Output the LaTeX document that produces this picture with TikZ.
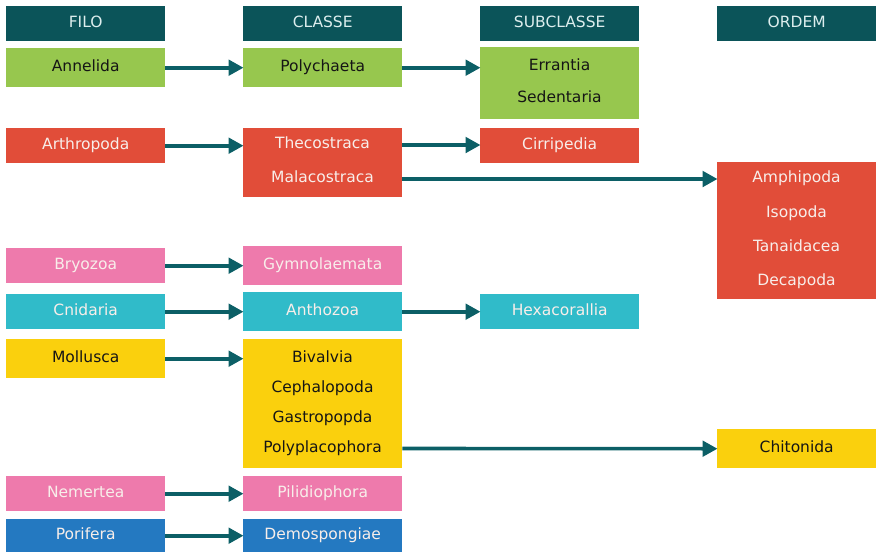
\documentclass[tikz,border=0pt]{standalone}
\usepackage{fontspec}
\setmainfont{DejaVu Sans}
\usetikzlibrary{arrows.meta}
\definecolor{hdr}{HTML}{0B5459}
\definecolor{cgreen}{HTML}{97C74E}
\definecolor{cred}{HTML}{E14D39}
\definecolor{cpink}{HTML}{EE7AAC}
\definecolor{ccyan}{HTML}{30BBC9}
\definecolor{cyellow}{HTML}{FAD00D}
\definecolor{cblue}{HTML}{2479C1}
\definecolor{carrow}{HTML}{0C5F66}
\definecolor{lighttxt}{HTML}{F8EEEA}
\definecolor{hdrtxt}{HTML}{DDEEEE}
\definecolor{darktxt}{HTML}{151515}
\begin{document}
\begin{tikzpicture}[x=1pt,y=-1pt,
  lbl/.style={font=\fontsize{15.5}{18}\selectfont, text height=11.3pt, text depth=4pt, inner sep=0pt},
  box/.style={lbl, rectangle, anchor=north west, minimum width=159pt, align=center},
  hdrbox/.style={box, fill=hdr, text=hdrtxt, minimum height=35pt},
  bg/.style={rectangle, anchor=north west, minimum width=159pt, inner sep=0pt},
  arr/.style={draw=carrow, line width=3.6pt, -{Triangle[length=15pt,width=15.5pt]}, shorten >=-0.5pt}
]
\useasboundingbox (0,0) rectangle (877,552);

% headers
\node[hdrbox] (hfilo) at (6,6) {FILO};
\node[hdrbox] (hclasse) at (243,6) {CLASSE};
\node[hdrbox] (hsub) at (480,6) {SUBCLASSE};
\node[hdrbox] (hordem) at (717,6) {ORDEM};

% Annelida row
\node[box, fill=cgreen, text=darktxt, minimum height=39pt] (annelida) at (6,48) {Annelida};
\node[box, fill=cgreen, text=darktxt, minimum height=39pt] (polychaeta) at (243,48) {Polychaeta};
\node[bg, fill=cgreen, minimum height=72pt] (annsub) at (480,47) {};
\node[lbl, text=darktxt] (errantia) at (559.5,67) {Errantia};
\node[lbl, text=darktxt] (sedentaria) at (559.5,99) {Sedentaria};

% Arthropoda row
\node[box, fill=cred, text=lighttxt, minimum height=35pt] (arthropoda) at (6,128) {Arthropoda};
\node[bg, fill=cred, minimum height=69pt] (arthcl) at (243,128) {};
\node[lbl, text=lighttxt] (thecostraca) at (322.5,145) {Thecostraca};
\node[lbl, text=lighttxt] (malacostraca) at (322.5,179) {Malacostraca};
\node[box, fill=cred, text=lighttxt, minimum height=35pt] (cirripedia) at (480,128) {Cirripedia};
\node[bg, fill=cred, minimum height=137pt] (arthord) at (717,162) {};
\node[lbl, text=lighttxt] (amphipoda) at (796.5,179) {Amphipoda};
\node[lbl, text=lighttxt] (isopoda) at (796.5,214) {Isopoda};
\node[lbl, text=lighttxt] (tanaidacea) at (796.5,247.5) {Tanaidacea};
\node[lbl, text=lighttxt] (decapoda) at (796.5,282) {Decapoda};

% Bryozoa row
\node[box, fill=cpink, text=lighttxt, minimum height=35pt] (bryozoa) at (6,248) {Bryozoa};
\node[box, fill=cpink, text=lighttxt, minimum height=39pt] (gymno) at (243,246) {Gymnolaemata};

% Cnidaria row
\node[box, fill=ccyan, text=lighttxt, minimum height=35pt] (cnidaria) at (6,294) {Cnidaria};
\node[box, fill=ccyan, text=lighttxt, minimum height=39pt] (anthozoa) at (243,292) {Anthozoa};
\node[box, fill=ccyan, text=lighttxt, minimum height=35pt] (hexa) at (480,294) {Hexacorallia};

% Mollusca row
\node[box, fill=cyellow, text=darktxt, minimum height=39pt] (mollusca) at (6,339) {Mollusca};
\node[bg, fill=cyellow, minimum height=129pt] (molcl) at (243,339) {};
\node[lbl, text=darktxt] (bivalvia) at (322.5,358.5) {Bivalvia};
\node[lbl, text=darktxt] (cephalo) at (322.5,388.5) {Cephalopoda};
\node[lbl, text=darktxt] (gastro) at (322.5,418.5) {Gastropopda};
\node[lbl, text=darktxt] (polypla) at (322.5,448.5) {Polyplacophora};
\node[box, fill=cyellow, text=darktxt, minimum height=39pt] (chitonida) at (717,429) {Chitonida};

% Nemertea row
\node[box, fill=cpink, text=lighttxt, minimum height=35pt] (nemertea) at (6,476) {Nemertea};
\node[box, fill=cpink, text=lighttxt, minimum height=35pt] (pilidio) at (243,476) {Pilidiophora};

% Porifera row
\node[box, fill=cblue, text=lighttxt, minimum height=33pt] (porifera) at (6,519) {Porifera};
\node[box, fill=cblue, text=lighttxt, minimum height=33pt] (demosp) at (243,519) {Demospongiae};

% arrows
\draw[arr] (annelida.east) -- (polychaeta.west);
\draw[arr] (polychaeta.east) -- (polychaeta.east -| annsub.west);
\draw[arr] (arthropoda.east) -- (arthropoda.east -| arthcl.west);
\draw[arr] (thecostraca -| arthcl.east) -- (thecostraca -| cirripedia.west);
\draw[arr] (malacostraca -| arthcl.east) -- (malacostraca -| arthord.west);
\draw[arr] (bryozoa.east) -- (gymno.west);
\draw[arr] (cnidaria.east) -- (anthozoa.west);
\draw[arr] (anthozoa.east) -- (hexa.west);
\draw[arr] (mollusca.east) -- (mollusca.east -| molcl.west);
\draw[arr] (polypla -| molcl.east) -- (chitonida.west);
\draw[arr] (nemertea.east) -- (pilidio.west);
\draw[arr] (porifera.east) -- (demosp.west);
\end{tikzpicture}
\end{document}
